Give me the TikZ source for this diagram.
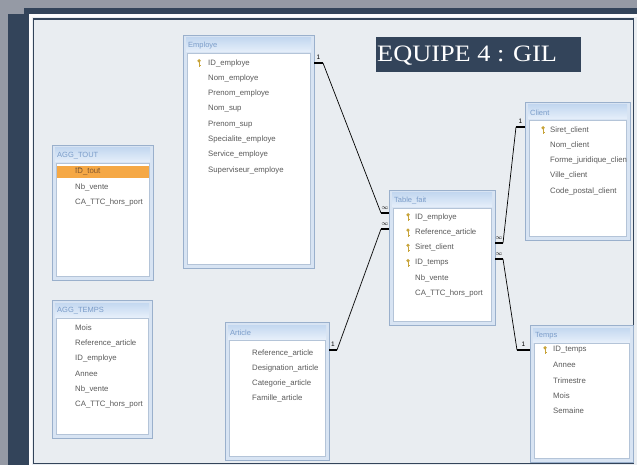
\documentclass[tikz,border=0pt]{standalone}
\usepackage{fontspec}
\setmainfont{Liberation Serif}
\newfontfamily\titlefont[FakeStretch=1.12]{Liberation Serif}
\newfontfamily\fieldfont{Liberation Sans}
\definecolor{bggray}{HTML}{959AA5}
\definecolor{navy}{HTML}{33445A}
\definecolor{panel}{HTML}{E9EDF1}
\definecolor{winframe}{HTML}{D8E4F3}
\definecolor{winline}{HTML}{9AB0CC}
\definecolor{tbtop}{HTML}{C4D8F0}
\definecolor{tbbot}{HTML}{E6EFFA}
\definecolor{bodyline}{HTML}{B4C4D8}
\definecolor{fieldgray}{HTML}{5A5A5A}
\definecolor{titleblue}{HTML}{7A9CC9}
\definecolor{keygold}{HTML}{C8A43A}
\definecolor{hilite}{HTML}{F5A845}
\newcommand\tablewin[6]{%
  \node[winbox, minimum width=#4pt, minimum height=#5pt, anchor=north west] (#1) at (#2,#3) {};
  \shade[top color=tbtop, bottom color=tbbot] (#2+3,#3+3) rectangle (#2+#4-3,#3+17);
  \filldraw[fill=white, draw=bodyline, line width=0.6] (#2+4,#3+18) rectangle (#2+#4-4,#3+#5-4);
  \node[wtitle, anchor=west] (#1-t) at (#2+5,#3+10.5) {#6};
}
\newcommand\fieldlist[4]{%
  \foreach \f [count=\i from 0] in {#4} {
    \node[field, anchor=west] (#1-f\i) at (#2,#3+\i*15.3) {\f};
  }
}
\newcommand\keyicon[2]{%
  \fill[keygold] (#1,#2-2.2) circle (1.8);
  \draw[keygold, line width=1] (#1,#2-1) -- (#1,#2+4.2);
  \draw[keygold, line width=0.8] (#1,#2+2.8) -- (#1+1.8,#2+2.8);
}
\begin{document}
\begin{tikzpicture}[x=1pt,y=-1pt,
  winbox/.style={draw=winline, fill=winframe, line width=0.9, inner sep=0, outer sep=0},
  wtitle/.style={font=\fieldfont\fontsize{7.5}{8}\selectfont, text=titleblue, inner sep=0},
  field/.style={font=\fieldfont\fontsize{7.8}{8}\selectfont, text=fieldgray, inner sep=0},
  conn/.style={draw=black, line width=0.7},
  stub/.style={draw=black, line width=1.8},
  card/.style={font=\fieldfont\fontsize{6.5}{7}\selectfont, inner sep=0}]
\useasboundingbox (0,0) rectangle (637,465);
\fill[bggray] (0,0) rectangle (637,465);
\fill[navy] (8,14) rectangle (637,465);
\fill[navy] (24,8) rectangle (637,14);
\fill[white!85!panel] (29,14) rectangle (637,465);
\fill[panel] (32,17) rectangle (637,465);
\draw[navy, line width=1.3] (33.5,19) rectangle (633.5,463.5);

% title
\node[fill=navy, minimum width=205pt, minimum height=35pt, inner sep=0, anchor=north west] (titlebox) at (376,37) {};
\node[text=white, font=\titlefont\fontsize{23.5}{24}\selectfont, inner sep=0, anchor=west] (title) at (377,55.5) {EQUIPE 4 : GIL};

% tables
\tablewin{emp}{183}{35}{131}{233}{Employe}
\fieldlist{emp}{208}{63}{ID\_employe,Nom\_employe,Prenom\_employe,Nom\_sup,Prenom\_sup,Specialite\_employe,Service\_employe,Superviseur\_employe}
\keyicon{199}{63}

\tablewin{aggt}{52}{145}{101}{135}{AGG\_TOUT}
\fill[hilite] (57,166) rectangle (149,178);
\fieldlist{aggt}{75}{172}{ID\_tout,Nb\_vente,CA\_TTC\_hors\_port}
\node[field, text=brown!70!black, anchor=west, fill=hilite] (aggt-h) at (75,172) {ID\_tout};

\tablewin{aggm}{52}{300}{100}{138}{AGG\_TEMPS}
\fieldlist{aggm}{75}{328}{Mois,Reference\_article,ID\_employe,Annee,Nb\_vente,CA\_TTC\_hors\_port}

\tablewin{art}{225}{322}{104}{138}{Article}
\fieldlist{art}{252}{353}{Reference\_article,Designation\_article,Categorie\_article,Famille\_article}

\tablewin{tf}{389}{190}{106}{135}{Table\_fait}
\fieldlist{tf}{415}{217}{ID\_employe,Reference\_article,Siret\_client,ID\_temps,Nb\_vente,CA\_TTC\_hors\_port}
\foreach \k in {0,1,2,3} {\keyicon{408}{217+\k*15.3}}

\tablewin{cli}{525}{102}{105}{138}{Client}
\begin{scope}
\clip (529,120) rectangle (626,236);
\fieldlist{cli}{550}{130}{Siret\_client,Nom\_client,Forme\_juridique\_client,Ville\_client,Code\_postal\_client}
\end{scope}
\keyicon{543}{130}

\tablewin{tem}{530}{325}{103}{137}{Temps}
\fieldlist{tem}{553}{350}{ID\_temps,Annee,Trimestre,Mois,Semaine}
\keyicon{545}{350}

% connector end points
\coordinate (e1) at (314,63);  \coordinate (e2) at (323,63);
\coordinate (f1) at (381,213); \coordinate (f2) at (389,213);
\coordinate (a1) at (329,350); \coordinate (a2) at (337,350);
\coordinate (g1) at (381,229); \coordinate (g2) at (389,229);
\coordinate (h1) at (495,243); \coordinate (h2) at (503,243);
\coordinate (c1) at (516,127); \coordinate (c2) at (525,127);
\coordinate (i1) at (495,259); \coordinate (i2) at (503,259);
\coordinate (t1) at (517,350); \coordinate (t2) at (530,350);

\draw[stub] (e1) -- (e2); \draw[conn] (e2) -- (f1); \draw[stub] (f1) -- (f2);
\draw[stub] (a1) -- (a2); \draw[conn] (a2) -- (g1); \draw[stub] (g1) -- (g2);
\draw[stub] (h1) -- (h2); \draw[conn] (h2) -- (c1); \draw[stub] (c1) -- (c2);
\draw[stub] (i1) -- (i2); \draw[conn] (i2) -- (t1); \draw[stub] (t1) -- (t2);

\node[card] (n1) at (318.5,57) {1};
\node[card] (n2) at (333,344) {1};
\node[card] (n3) at (520.5,121) {1};
\node[card] (n4) at (523.5,344) {1};
\node[card] (m1) at (385,208) {$\infty$};
\node[card] (m2) at (385,224) {$\infty$};
\node[card] (m3) at (499,238) {$\infty$};
\node[card] (m4) at (499,254) {$\infty$};
\end{tikzpicture}
\end{document}
